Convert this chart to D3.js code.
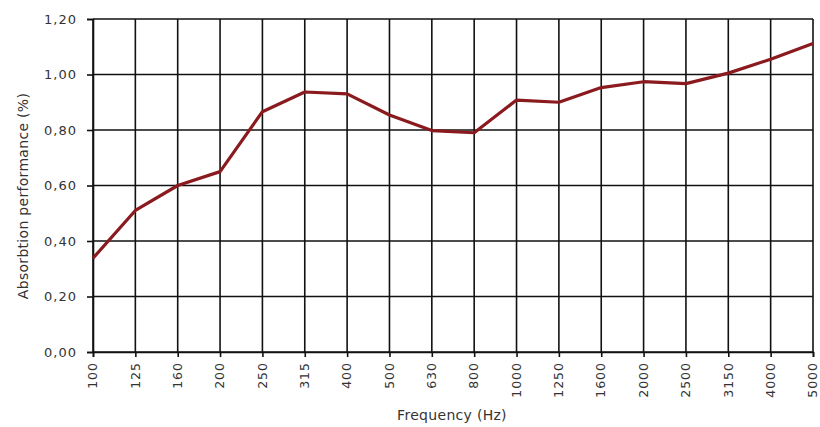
<!DOCTYPE html>
<html>
<head>
<meta charset="utf-8">
<script src="https://cdn.jsdelivr.net/npm/d3@7"></script>
<style>
  body { margin: 0; background: #fff; }
  text { font-family: 'DejaVu Sans', sans-serif; fill: #333; }
</style>
</head>
<body>
<svg width="820" height="427"></svg>
<script>
const frequencies = ['100', '125', '160', '200', '250', '315', '400', '500', '630', '800',
  '1000', '1250', '1600', '2000', '2500', '3150', '4000', '5000']
const absorption = [0.338, 0.51, 0.60, 0.65, 0.866, 0.937, 0.93, 0.854, 0.798, 0.79,
  0.908, 0.90, 0.953, 0.974, 0.967, 1.005, 1.055, 1.112]
const yTicks = [0, 0.2, 0.4, 0.6, 0.8, 1.0, 1.2]

const width = 820
const height = 427
const margin = { top: 19, right: 7, bottom: 75, left: 93 }

const svg = d3.select('svg')

const xScale = d3.scalePoint()
  .domain(frequencies)
  .range([margin.left, width - margin.right])

const yScale = d3.scaleLinear()
  .domain([0, 1.2])
  .range([height - margin.bottom, margin.top])

const fmt = d => d3.format('.2f')(d).replace('.', ',')

// grid
svg.append('g')
  .selectAll('line')
  .data(frequencies)
  .enter().append('line')
  .attr('x1', d => xScale(d))
  .attr('x2', d => xScale(d))
  .attr('y1', yScale(1.2))
  .attr('y2', yScale(0))
  .attr('stroke', '#111')
  .attr('stroke-width', 1.6)

svg.append('g')
  .selectAll('line')
  .data(yTicks)
  .enter().append('line')
  .attr('x1', margin.left)
  .attr('x2', width - margin.right)
  .attr('y1', d => yScale(d))
  .attr('y2', d => yScale(d))
  .attr('stroke', '#111')
  .attr('stroke-width', 1.6)

// axes
const xAxis = d3.axisBottom(xScale).tickSize(5).tickPadding(6)
const yAxis = d3.axisLeft(yScale).tickValues(yTicks).tickFormat(fmt).tickSize(6).tickPadding(10)

const gx = svg.append('g')
  .attr('transform', `translate(0, ${height - margin.bottom})`)
  .call(xAxis)
gx.select('.domain').attr('stroke', '#111').attr('stroke-width', 1.6)
gx.selectAll('.tick line').attr('stroke', '#111').attr('stroke-width', 1.6)
gx.selectAll('.tick text')
  .attr('transform', 'rotate(-90)')
  .attr('x', -10)
  .attr('y', 0)
  .attr('dy', '0.3em')
  .style('text-anchor', 'end')
  .style('font-size', '12.5px')
  .style('letter-spacing', '1px')
  .attr('fill', '#333')

const gy = svg.append('g')
  .attr('transform', `translate(${margin.left}, 0)`)
  .call(yAxis)
gy.select('.domain').attr('stroke', '#111').attr('stroke-width', 1.6)
gy.selectAll('.tick line').attr('stroke', '#111').attr('stroke-width', 1.6)
gy.selectAll('.tick text')
  .style('font-size', '13px')
  .style('letter-spacing', '1px')
  .attr('fill', '#333')

// data line
const line = d3.line()
  .x((d, i) => xScale(frequencies[i]))
  .y(d => yScale(d))

svg.append('path')
  .datum(absorption)
  .attr('d', line)
  .attr('fill', 'none')
  .attr('stroke', '#8b1a1f')
  .attr('stroke-width', 3.2)
  .attr('stroke-linejoin', 'round')

// titles
svg.append('text')
  .attr('x', 452)
  .attr('y', 420)
  .style('text-anchor', 'middle')
  .style('font-size', '14px')
  .style('letter-spacing', '0.3px')
  .text('Frequency (Hz)')

svg.append('text')
  .attr('transform', 'translate(28, 196) rotate(-90)')
  .style('text-anchor', 'middle')
  .style('font-size', '14px')
  .style('letter-spacing', '0.3px')
  .text('Absorbtion performance (%)')
</script>
</body>
</html>
